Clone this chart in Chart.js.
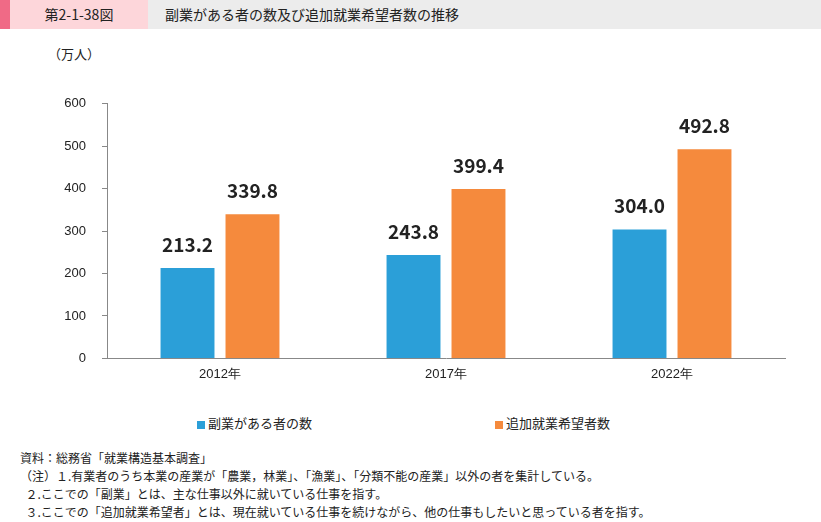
<!DOCTYPE html>
<html><head><meta charset="utf-8">
<script src="https://cdn.jsdelivr.net/npm/chart.js@4"></script>
<style>
body{margin:0;width:821px;height:522px;background:#fff;font-family:"Noto Sans CJK JP",sans-serif;position:relative;overflow:hidden}
.hdr{position:absolute;left:0;top:0;width:821px;height:29px;background:#ececec}
.hdr .s{position:absolute;left:0;top:0;width:10px;height:29px;background:#f06a86}
.hdr .p{position:absolute;left:10px;top:0;width:138px;height:29px;background:#fdd6da;font-size:14px;line-height:29px;text-align:center;color:#222}
.hdr .t{position:absolute;left:165px;top:0;font-size:14px;line-height:29px;color:#222}
.unit{position:absolute;left:48px;top:44px;font-size:13px;color:#222}
.leg{position:absolute;top:413px;font-size:13px;color:#222}
.leg i{display:inline-block;width:8px;height:8px;margin-right:3px;vertical-align:-1px}
.notes{position:absolute;left:20px;top:449px;font-size:12px;line-height:18px;color:#222;white-space:nowrap}
#wrap{position:absolute;left:0;top:80px;width:821px;height:312px}
</style></head><body>
<div class="hdr"><div class="s"></div><div class="p">第2-1-38図</div><div class="t">副業がある者の数及び追加就業希望者数の推移</div></div>
<div class="unit">（万人）</div>
<div id="wrap"><canvas id="c"></canvas></div>
<div class="leg" style="left:197px"><i style="background:#2b9fd8"></i>副業がある者の数</div>
<div class="leg" style="left:495px"><i style="background:#f58a3d"></i>追加就業希望者数</div>
<div class="notes">資料：総務省「就業構造基本調査」<br>（注）１.有業者のうち本業の産業が「農業，林業」、「漁業」、「分類不能の産業」以外の者を集計している。<br>&nbsp;&nbsp;２.ここでの「副業」とは、主な仕事以外に就いている仕事を指す。<br>&nbsp;&nbsp;３.ここでの「追加就業希望者」とは、現在就いている仕事を続けながら、他の仕事もしたいと思っている者を指す。</div>
<script>
const categories=["2012年","2017年","2022年"];
const sideJob=[213.2,243.8,304.0];
const additional=[339.8,399.4,492.8];
const yTicks=[0,100,200,300,400,500,600];
const labelPlugin={id:'lbl',afterDatasetsDraw(ch){const x=ch.ctx;x.save();x.font='bold 19px "Noto Sans CJK JP",sans-serif';x.fillStyle='#222';x.textAlign='center';x.textBaseline='bottom';
ch.data.datasets.forEach((d,i)=>{ch.getDatasetMeta(i).data.forEach((b,j)=>{x.fillText(d.data[j].toFixed(1),b.x,b.y-14);});});x.restore();}};
new Chart(document.getElementById('c'),{type:'bar',
data:{labels:categories,datasets:[
{label:'副業がある者の数',data:sideJob,backgroundColor:'#2b9fd8',categoryPercentage:0.575,barPercentage:0.83},
{label:'追加就業希望者数',data:additional,backgroundColor:'#f58a3d',categoryPercentage:0.575,barPercentage:0.83}]},
options:{responsive:true,maintainAspectRatio:false,animation:false,
layout:{padding:{top:10,right:36,bottom:2,left:0}},
plugins:{legend:{display:false},tooltip:{enabled:false}},
scales:{
x:{grid:{display:false,drawTicks:false},border:{color:'#888'},ticks:{color:'#222',font:{size:13},padding:8}},
y:{min:0,max:600,afterBuildTicks(a){a.ticks=yTicks.map(v=>({value:v}));},afterFit(a){a.width=107;},
grid:{display:true,drawOnChartArea:false,tickLength:5,color:'#888'},border:{color:'#888'},ticks:{color:'#222',font:{size:13},padding:16}}}},
plugins:[labelPlugin]});
</script></body></html>
